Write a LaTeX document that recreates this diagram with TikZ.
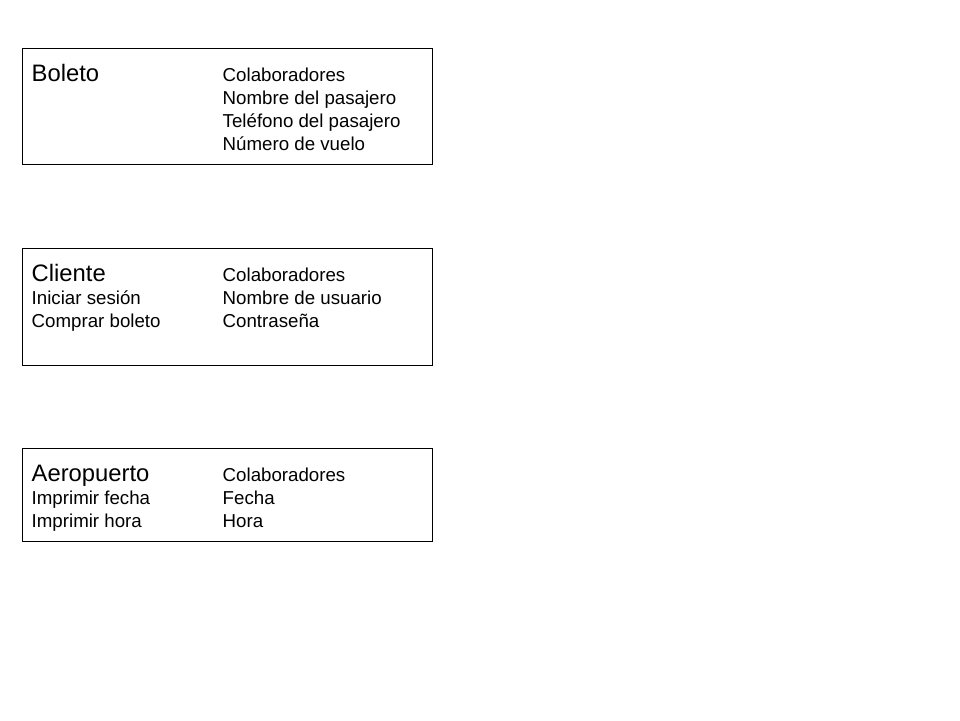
\documentclass[tikz,border=0pt]{standalone}
\usepackage{fontspec}
\setmainfont{Liberation Sans}
\usepackage{tikz}
\usetikzlibrary{positioning}

\newcommand{\filas}[1]{\begin{tabular}[t]{@{}l@{}}#1\end{tabular}}

\begin{document}
\begin{tikzpicture}[x=1pt,y=-1pt]
        \tikzstyle{clase}=[draw=black,line width=1pt,minimum width=410pt,inner sep=0pt]
        \tikzstyle{nombre}=[anchor=base west,inner sep=0pt,font=\fontsize{23.8}{23}\selectfont]
        \tikzstyle{lista}=[anchor=base west,inner sep=0pt,font=\fontsize{18.7}{23}\selectfont]
        \useasboundingbox (0,0) rectangle (960,720);
        % boxes
        \node[clase,minimum height=116pt] (Bo) at (227,106) {};
        \node[clase,minimum height=117pt] (Cl) at (227,306.5) {};
        \node[clase,minimum height=93pt] (Ae) at (227,494.5) {};
        % Boleto
        \node[nombre] (BoN) at ([shift={(10,33.5)}]Bo.north west) {Boleto};
        \node[lista] (BoC) at ([shift={(201,33.5)}]Bo.north west) {\filas{Colaboradores\\Nombre del pasajero\\Teléfono del pasajero\\Número de vuelo}};
        % Cliente
        \node[nombre] (ClN) at ([shift={(10,33.5)}]Cl.north west) {Cliente};
        \node[lista] (ClR) at ([shift={(10,56.5)}]Cl.north west) {\filas{Iniciar sesión\\Comprar boleto}};
        \node[lista] (ClC) at ([shift={(201,33.5)}]Cl.north west) {\filas{Colaboradores\\Nombre de usuario\\Contraseña}};
        % Aeropuerto
        \node[nombre] (AeN) at ([shift={(10,33.5)}]Ae.north west) {Aeropuerto};
        \node[lista] (AeR) at ([shift={(10,56.5)}]Ae.north west) {\filas{Imprimir fecha\\Imprimir hora}};
        \node[lista] (AeC) at ([shift={(201,33.5)}]Ae.north west) {\filas{Colaboradores\\Fecha\\Hora}};
    \end{tikzpicture}
\end{document}
